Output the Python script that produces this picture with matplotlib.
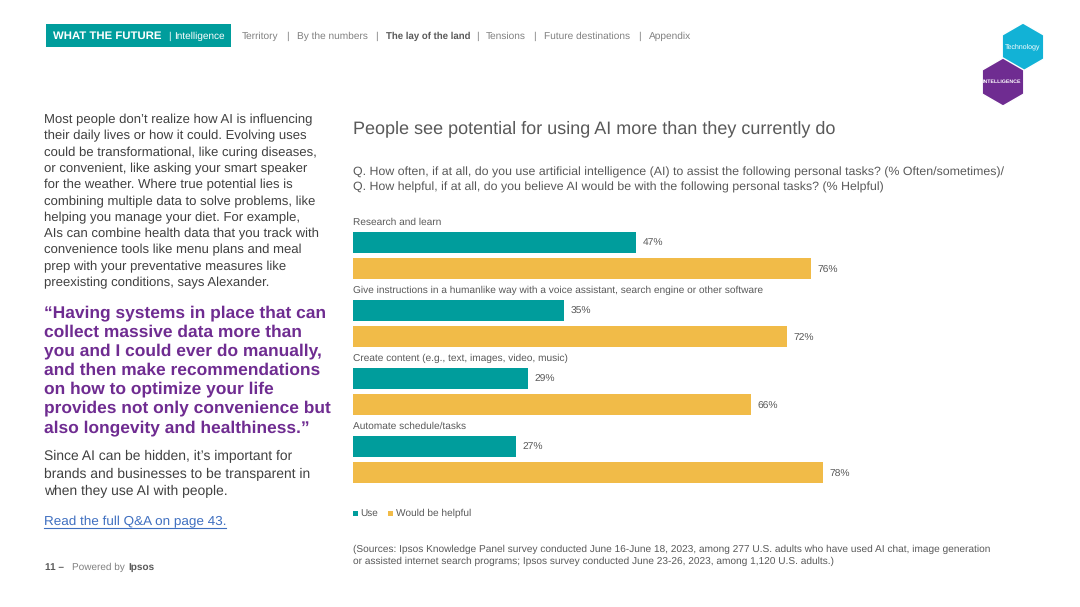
import matplotlib
matplotlib.use("Agg")
import matplotlib.pyplot as plt
from matplotlib.patches import Polygon, Rectangle
import numpy as np

W, H = 1080, 607
TEAL = "#009d9c"
GOLD = "#f1bb48"
PURPLE = "#6f2c91"
GREY = "#595959"
NAV = "#808080"

categories = [
    "Research and learn",
    "Give instructions in a humanlike way with a voice assistant, search engine or other software",
    "Create content (e.g., text, images, video, music)",
    "Automate schedule/tasks",
]
use_values = [47, 35, 29, 27]
helpful_values = [76, 72, 66, 78]

body_top = [
    "Most people don’t realize how AI is influencing",
    "their daily lives or how it could. Evolving uses",
    "could be transformational, like curing diseases,",
    "or convenient, like asking your smart speaker",
    "for the weather. Where true potential lies is",
    "combining multiple data to solve problems, like",
    "helping you manage your diet. For example,",
    "AIs can combine health data that you track with",
    "convenience tools like menu plans and meal",
    "prep with your preventative measures like",
    "preexisting conditions, says Alexander.",
]
quote = [
    "“Having systems in place that can",
    "collect massive data more than",
    "you and I could ever do manually,",
    "and then make recommendations",
    "on how to optimize your life",
    "provides not only convenience but",
    "also longevity and healthiness.”",
]
body_bottom = [
    "Since AI can be hidden, it’s important for",
    "brands and businesses to be transparent in",
    "when they use AI with people.",
]
nav_items = [
    ("Territory", 242, False),
    ("|", 286, False),
    ("By the numbers", 297, False),
    ("|", 375, False),
    ("The lay of the land", 386, True),
    ("|", 476, False),
    ("Tensions", 486, False),
    ("|", 533, False),
    ("Future destinations", 544, False),
    ("|", 638, False),
    ("Appendix", 649, False),
]

plt.rcParams["font.family"] = ["Liberation Sans", "DejaVu Sans"]
plt.rcParams["text.hinting"] = "no_hinting"

fig = plt.figure(figsize=(W / 100, H / 100), dpi=100)

# page layer in pixel coordinates
page = fig.add_axes([0, 0, 1, 1])
page.set_xlim(0, W)
page.set_ylim(H, 0)
page.axis("off")


def hexagon(cx, cy, r, color):
    angles = np.radians(np.arange(30, 390, 60))
    pts = np.c_[cx + r * np.cos(angles), cy + r * np.sin(angles)]
    page.add_patch(Polygon(pts, closed=True, facecolor=color, edgecolor="white", lw=1))


# header
page.add_patch(Rectangle((46, 24), 185, 23, color=TEAL, lw=0))
page.text(53, 36, "WHAT THE FUTURE", color="white", fontsize=8.2, fontweight="bold", va="center")
page.text(168, 36, "|", color="white", fontsize=7, va="center")
page.text(174, 36, "Intelligence", color="white", fontsize=7.2, va="center")
for label, x, bold in nav_items:
    page.text(x, 36, label, color=GREY if bold else NAV, fontsize=6.9 if bold else 7.3,
              fontweight="bold" if bold else "normal", va="center")

hexagon(1023, 47, 24, "#12b2d6")
page.text(1023, 47, "Technology", color="white", fontsize=5, ha="center", va="center")
hexagon(1003, 82, 24, PURPLE)
page.text(1002, 82, "INTELLIGENCE", color="white", fontsize=3.8, fontweight="bold", ha="center", va="center")

# left column
for i, line in enumerate(body_top):
    page.text(44, 120 + i * 16.3, line, color="#404040", fontsize=9.45, va="center")
for i, line in enumerate(quote):
    page.text(44, 313 + i * 19.1, line, color=PURPLE, fontsize=12.5, fontweight="bold", va="center")
for i, line in enumerate(body_bottom):
    page.text(44, 456.5 + i * 17.5, line, color="#404040", fontsize=10.0, va="center")
page.text(44, 521.5, "Read the full Q&A on page 43.", color="#3f6fc0", fontsize=9.7, va="center")
page.plot([44, 226], [527.5, 527.5], color="#3f6fc0", lw=0.8)

page.text(45, 567.5, "11 –", color=GREY, fontsize=7.2, fontweight="bold", va="center")
page.text(72, 567.5, "Powered by", color=NAV, fontsize=7.2, va="center")
page.text(128, 567.5, "Ipsos", color=GREY, fontsize=7.2, fontweight="bold", va="center")

# chart heading
page.text(353, 129, "People see potential for using AI more than they currently do", color=GREY, fontsize=12.95, va="center")
page.text(353, 172, "Q. How often, if at all, do you use artificial intelligence (AI) to assist the following personal tasks? (% Often/sometimes)/",
          color=GREY, fontsize=8.95, va="center")
page.text(353, 187, "Q. How helpful, if at all, do you believe AI would be with the following personal tasks? (% Helpful)",
          color=GREY, fontsize=8.95, va="center")

# bars
ax = fig.add_axes([353 / W, 1 - 493.5 / H, 603 / W, 272 / H])
ax.set_xlim(0, 100)
ax.set_ylim(3.5, -0.5)
ax.axis("off")
y = np.arange(len(categories))
offset = 13.25 / 68
height = 21 / 68
ax.barh(y - offset, use_values, height=height, color=TEAL)
ax.barh(y + offset, helpful_values, height=height, color=GOLD)
for i, cat in enumerate(categories):
    ax.text(0, i - offset - height / 2 - 0.065, cat, color=GREY, fontsize=7.3, va="bottom")
    ax.annotate(f"{use_values[i]}%", (use_values[i], i - offset), xytext=(4.5, -0.7),
                textcoords="offset points", color=GREY, fontsize=7.4, va="center")
    ax.annotate(f"{helpful_values[i]}%", (helpful_values[i], i + offset), xytext=(4.5, -1),
                textcoords="offset points", color=GREY, fontsize=7.4, va="center")

# legend
page.add_patch(Rectangle((353, 511), 5, 5, color=TEAL, lw=0))
page.text(360.5, 513.5, "Use", color=GREY, fontsize=7.2, va="center")
page.add_patch(Rectangle((388, 511), 5, 5, color=GOLD, lw=0))
page.text(396, 513.5, "Would be helpful", color=GREY, fontsize=7.3, va="center")

# sources
page.text(353, 549.5, "(Sources: Ipsos Knowledge Panel survey conducted June 16-June 18, 2023, among 277 U.S. adults who have used AI chat, image generation",
          color=GREY, fontsize=7.3, va="center")
page.text(353, 561.5, "or assisted internet search programs; Ipsos survey conducted June 23-26, 2023, among 1,120 U.S. adults.)",
          color=GREY, fontsize=7.3, va="center")

fig.savefig("out.png", dpi=100)
